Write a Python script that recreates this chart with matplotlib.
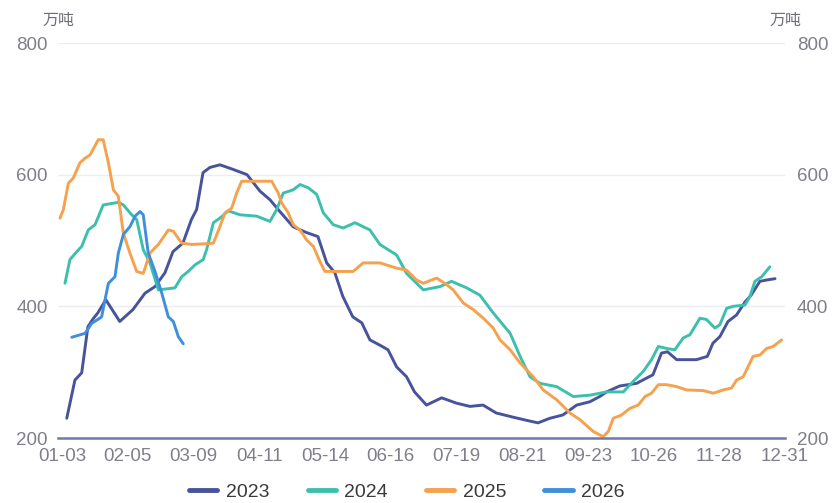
import matplotlib
matplotlib.use("Agg")
import matplotlib.pyplot as plt

plt.rcParams['font.family'] = ['Liberation Sans', 'Noto Sans CJK SC', 'DejaVu Sans']

# x = day index counted from 01-01 (leap-year calendar, 0..365)
tick_labels = ["01-03", "02-05", "03-09", "04-11", "05-14", "06-16",
               "07-19", "08-21", "09-23", "10-26", "11-28", "12-31"]
tick_days = [2, 35, 68, 101, 134, 167, 200, 233, 266, 299, 332, 365]

days_2023 = [4.4, 8.5, 11.9, 15, 17.6, 20, 24, 31, 37.6, 43.7, 48.7, 53.7, 57.7, 62.7,
             67, 69.6, 72.8, 76.3, 81.3, 87.9, 94.9, 101.4, 106.4, 111.4, 118, 124.8,
             130.5, 134.9, 139, 143, 148, 152.5, 156.6, 161.6, 165.7, 170, 175, 179,
             185, 192.6, 200, 206.8, 213.4, 220, 228, 235, 241, 247, 253.5, 260.4,
             267, 272, 275.4, 282, 290.5, 295.5, 298.7, 303, 306, 310.6, 320.6, 326,
             328.8, 332.3, 336.4, 340.7, 345, 348, 352.4, 355.8, 360]
vals_2023 = [230, 288, 299, 369, 381, 390, 410, 377, 395, 420, 430, 451, 483, 496,
             532, 547, 603, 611, 615, 608, 600, 575, 562, 544, 521, 512,
             506, 466, 451, 415, 384, 375, 349, 341, 334, 308, 293, 270,
             250, 261, 253, 248, 250, 238, 232, 227, 223, 230, 235, 250,
             255, 263, 270, 279, 283, 291, 296, 329, 331, 319, 319, 324,
             344, 354, 377, 387, 407, 417, 438, 440, 442]

days_2024 = [3.5, 6, 9.4, 11.9, 15.2, 18.6, 22.7, 30.3, 32.8, 37, 39.5, 42.8, 46.2,
             50.4, 58.7, 62.1, 65.4, 68.8, 72.9, 74.6, 78, 81.3, 85.5, 91.4, 99.7,
             106.4, 109.8, 113.1, 118.1, 121.5, 125.7, 129.9, 133.2, 138.2, 143.2,
             149.1, 156.6, 161.6, 170, 175, 183.4, 191.8, 197.6, 205.2, 211.8, 218.5,
             227, 232, 237, 242, 250.4, 258.7, 267, 275.4, 283.8, 288.8, 293.8, 298,
             301.4, 305.6, 309.7, 313.9, 317.3, 322.3, 325.6, 329.8, 332.3, 335.7,
             339, 344.9, 347.4, 349.9, 353.3, 357.4]
vals_2024 = [435, 471, 483, 491, 516, 524, 554, 558, 554, 539, 532, 486, 466,
             425, 428, 445, 453, 463, 471, 486, 527, 534, 545, 539, 537,
             529, 547, 572, 577, 585, 580, 570, 542, 524, 519,
             527, 516, 494, 478, 450, 425, 430, 438, 428, 417, 390,
             359, 324, 293, 283, 278, 263, 265, 270, 270, 286, 301, 319,
             339, 336, 334, 352, 357, 382, 380, 367, 372, 397,
             400, 402, 415, 438, 445, 460]

days_2025 = [1, 2.7, 5.2, 7.7, 11, 13.6, 16.1, 20.2, 22.7, 25.3, 27.8, 30.3, 32.8,
             36.1, 39.5, 42.8, 46.2, 50.4, 55.4, 57.9, 62.1, 67.1, 73.8, 78, 81.3,
             83.8, 87.2, 89.7, 92.2, 98, 107.3, 110.6, 112.3, 115.6, 118.1, 121.5,
             124.8, 128.2, 131.5, 134, 141.6, 148.2, 153.2, 161.6, 170, 175, 180,
             183.4, 190.1, 195.1, 198.4, 203.5, 208.5, 213.5, 218.5, 221.9, 227, 232,
             238.6, 243.6, 250.4, 257, 262, 268.7, 273.7, 276.3, 278.8, 283, 287.1,
             291.3, 294.7, 298, 301.4, 305.6, 310.6, 315.6, 324, 329, 334, 338.2,
             340.7, 344, 347.4, 349, 352.4, 355.8, 359, 363.3]
vals_2025 = [534, 547, 587, 595, 618, 625, 630, 653, 653, 618, 577, 567, 511,
             481, 453, 450, 481, 494, 516, 514, 496, 494, 495, 496, 521,
             542, 549, 572, 590, 590, 590, 572, 557, 542, 524, 516,
             501, 491, 468, 453, 453, 453, 466, 466, 458, 455, 440,
             435, 443, 433, 425, 405, 395, 382, 367, 349, 334, 314,
             293, 273, 258, 238, 228, 210, 202, 210, 230, 235, 245,
             250, 263, 268, 281, 281, 278, 273, 272, 268, 273, 276,
             288, 293, 314, 324, 326, 336, 339, 349]

days_2026 = [6.9, 13.6, 16.9, 21.9, 23.6, 25.3, 28.6, 30.3, 32.8, 36.1, 38.7, 41.2,
             42.8, 45.3, 48.7, 52.1, 55.4, 57.9, 60.4, 62.9]
vals_2026 = [353, 359, 374, 384, 410, 435, 445, 481, 509, 521, 537, 544,
             539, 481, 453, 420, 384, 377, 354, 343]

series = [
    ("2023", days_2023, vals_2023, "#47539b"),
    ("2024", days_2024, vals_2024, "#3dbfad"),
    ("2025", days_2025, vals_2025, "#f5a14d"),
    ("2026", days_2026, vals_2026, "#3f8fdc"),
]

W, H = 833, 503
fig = plt.figure(figsize=(W / 100, H / 100), dpi=100)
ax = fig.add_axes([58 / W, 1 - 438 / H, (785 - 58) / W, (438 - 43) / H])

for name, d, v, c in series:
    ax.plot(d, v, color=c, lw=2.1, solid_joinstyle="round", solid_capstyle="round",
            label=name, zorder=3)

ax.set_xlim(0, 365)
ax.set_ylim(200, 800)
ax.set_yticks([200, 400, 600, 800])
ax.set_xticks(tick_days)
ax.set_xticklabels(tick_labels)
ax.grid(axis="y", color="#ececf4", lw=1.0, zorder=0)
ax.set_axisbelow(True)
for s in ["top", "left", "right"]:
    ax.spines[s].set_visible(False)
ax.spines["bottom"].set_color("#6f79ab")
ax.spines["bottom"].set_linewidth(1.8)
ax.spines["bottom"].set_zorder(4)

ax.tick_params(axis="both", length=0, colors="#7f7f87", labelsize=13.5)
ax.tick_params(axis="y", pad=7.5)
ax.tick_params(axis="x", pad=7)

ax2 = ax.twinx()
ax2.set_ylim(200, 800)
ax2.set_yticks([200, 400, 600, 800])
for s in ["top", "left", "right", "bottom"]:
    ax2.spines[s].set_visible(False)
ax2.tick_params(axis="y", length=0, colors="#7f7f87", labelsize=13.5, pad=8.5)

unit_font = ['Noto Sans CJK SC', 'DejaVu Sans']
fig.text(58 / W, 1 - 20 / H, "万吨", ha="center", va="center", fontsize=11.5,
         color="#6e6e76", family=unit_font)
fig.text(785 / W, 1 - 20 / H, "万吨", ha="center", va="center", fontsize=11.5,
         color="#6e6e76", family=unit_font)

handles, labels = ax.get_legend_handles_labels()
leg = fig.legend(handles, labels, loc="center", bbox_to_anchor=(407 / W, 1 - 492 / H),
                 ncol=4, frameon=False, fontsize=14, handlelength=1.45,
                 handletextpad=0.45, columnspacing=1.95)
for line in leg.get_lines():
    line.set_linewidth(3.5)
for t in leg.get_texts():
    t.set_color("#3a3a3a")

fig.savefig("out.png", dpi=100)
